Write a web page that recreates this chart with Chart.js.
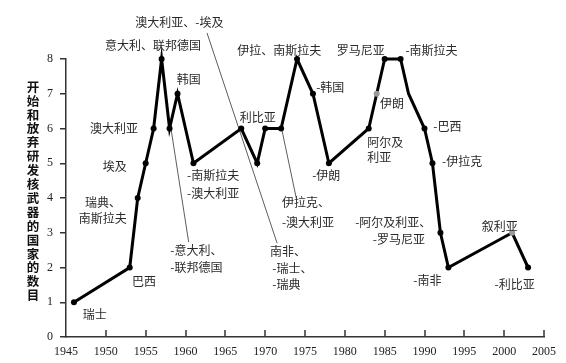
<!DOCTYPE html>
<html>
<head>
<meta charset="utf-8">
<script src="https://cdn.jsdelivr.net/npm/chart.js@4.4.1/dist/chart.umd.min.js"></script>
<style>
  html,body{margin:0;padding:0;background:#fff;}
  #wrap{width:566px;height:363px;}
</style>
</head>
<body>
<div id="wrap"><canvas id="c" width="566" height="363"></canvas></div>
<script>
// 数据：年份与国家数目
const years  = [1946,1953,1954,1955,1956,1957,1958,1959,1961,1967,1969,1970,1972,1974,1976,1978,1983,1984,1985,1987,1988,1990,1991,1992,1993,2001,2003];
const counts = [1,2,4,5,6,8,6,7,5,6,5,6,6,8,7,5,6,7,8,8,7,6,5,3,2,3,2];
const grayYears = [1984, 2001];
const noMarkYears = [1988];

const xTicks = [1945,1950,1955,1960,1965,1970,1975,1980,1985,1990,1995,2000,2005];
const yTicks = [0,1,2,3,4,5,6,7,8];

const yTitle = '开始和放弃研发核武器的国家的数目';

// 注释文字：[文字, 年份, 数值]
const notes = [
  ['澳大利亚、-埃及', 1953.7, 9.04],
  ['意大利、联邦德国', 1949.9, 8.40],
  ['韩国', 1958.9, 7.40],
  ['澳大利亚', 1948.0, 6.01],
  ['埃及', 1949.6, 4.92],
  ['瑞典、', 1947.4, 3.86],
  ['南斯拉夫', 1946.6, 3.40],
  ['瑞士', 1947.1, 0.66],
  ['巴西', 1953.3, 1.61],
  ['-南斯拉夫', 1960.2, 4.66],
  ['-澳大利亚', 1960.2, 4.14],
  ['-意大利、', 1958.1, 2.50],
  ['-联邦德国', 1958.1, 2.01],
  ['利比亚', 1966.8, 6.33],
  ['伊拉、南斯拉夫', 1966.5, 8.26],
  ['罗马尼亚', 1979.0, 8.26],
  ['-南斯拉夫', 1987.6, 8.26],
  ['-韩国', 1976.4, 7.19],
  ['-伊朗', 1975.9, 4.66],
  ['伊朗', 1984.4, 6.73],
  ['阿尔及', 1982.8, 5.61],
  ['利亚', 1982.8, 5.18],
  ['-巴西', 1991.1, 6.07],
  ['-伊拉克', 1992.2, 5.06],
  ['伊拉克、', 1972.1, 3.86],
  ['-澳大利亚', 1972.1, 3.31],
  ['南非、', 1970.6, 2.45],
  ['-瑞士、', 1970.9, 1.96],
  ['-瑞典', 1970.9, 1.50],
  ['-阿尔及利亚、', 1981.3, 3.31],
  ['-罗马尼亚', 1983.5, 2.82],
  ['-南非', 1988.6, 1.64],
  ['叙利亚', 1997.2, 3.19],
  ['-利比亚', 1998.8, 1.50]
];

// 引线：[起点年份, 起点数值, 终点年份, 终点数值]
const leaders = [
  [1962.7, 8.75, 1971.5, 2.70],
  [1958.2, 5.96, 1960.4, 2.73],
  [1972.1, 5.96, 1973.9, 4.00]
];

const labelFont = '12px "Noto Sans CJK SC", sans-serif';
const tickFont = {family:'"Liberation Serif", serif', size:12};

const notesPlugin = {
  id:'notes',
  afterDatasetsDraw(chart){
    const {ctx, scales:{x,y}, chartArea} = chart;
    ctx.save();
    // x轴内向刻度
    ctx.strokeStyle = '#333';
    ctx.lineWidth = 1.5;
    xTicks.forEach(t=>{
      if(t===1945) return;
      const px = Math.round(x.getPixelForValue(t));
      ctx.beginPath();
      ctx.moveTo(px, chartArea.bottom);
      ctx.lineTo(px, chartArea.bottom-7);
      ctx.stroke();
    });
    // 文字
    ctx.fillStyle = '#2a2a2a';
    ctx.font = labelFont;
    ctx.textAlign = 'left';
    ctx.textBaseline = 'middle';
    notes.forEach(([t,yr,v])=>{
      ctx.fillText(t, x.getPixelForValue(yr), y.getPixelForValue(v));
    });
    // 纵轴标题（竖排）
    ctx.font = 'bold 12.5px "Noto Sans CJK SC", sans-serif';
    ctx.fillStyle = '#111';
    ctx.textAlign = 'center';
    const chars = [...yTitle];
    const step = 13.9;
    const top = chartArea.top + 28;
    chars.forEach((ch,i)=>ctx.fillText(ch, 33, top + i*step));
    ctx.restore();
  }
};

const pointColors = years.map(yr => grayYears.includes(yr) ? '#999' : '#000');
const pointRadii = years.map(yr => noMarkYears.includes(yr) ? 0 : 3);

const leaderSets = leaders.map(l => ({
  data:[{x:l[0], y:l[1]}, {x:l[2], y:l[3]}],
  showLine:true, borderColor:'#333', borderWidth:0.8, pointRadius:0, clip:false
}));

new Chart(document.getElementById('c'), {
  type:'scatter',
  data:{
    datasets:[
      {
        data: years.map((yr,i)=>({x:yr, y:counts[i]})),
        showLine:true,
        borderColor:'#000',
        borderWidth:3,
        pointRadius:pointRadii,
        pointBackgroundColor:pointColors,
        pointBorderColor:pointColors,
        pointBorderWidth:0,
        clip:false
      },
      ...leaderSets
    ]
  },
  options:{
    responsive:false,
    animation:false,
    devicePixelRatio:1,
    layout:{padding:{top:59, right:22, left:0, bottom:0}},
    plugins:{legend:{display:false}, tooltip:{enabled:false}},
    scales:{
      x:{
        type:'linear', min:1945, max:2005,
        afterBuildTicks: s => { s.ticks = xTicks.map(v=>({value:v})); },
        afterFit: s => { s.height = 26; },
        grid:{display:true, drawOnChartArea:false, drawTicks:false},
        border:{color:'#333', width:1.5},
        ticks:{font:tickFont, color:'#222', padding:8, maxRotation:0, autoSkip:false, callback: v => String(v)}
      },
      y:{
        type:'linear', min:0, max:8,
        afterBuildTicks: s => { s.ticks = yTicks.map(v=>({value:v})); },
        afterFit: s => { s.width = 66; },
        grid:{drawOnChartArea:false, drawTicks:true, tickLength:6, color:'#333', lineWidth:1.5},
        border:{color:'#333', width:1.5},
        ticks:{font:tickFont, color:'#222', padding:7}
      }
    }
  },
  plugins:[notesPlugin]
});
</script>
</body>
</html>
